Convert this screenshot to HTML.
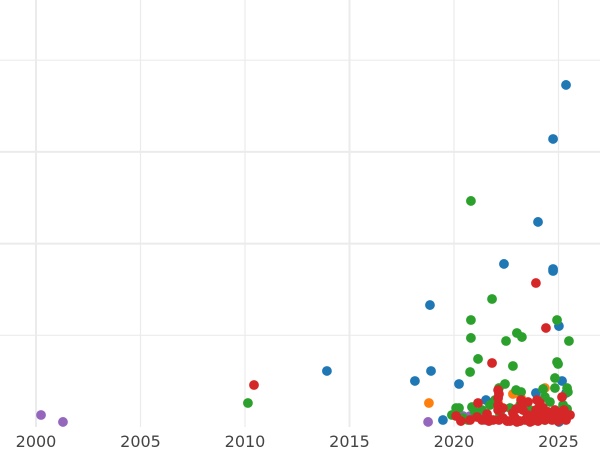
<!DOCTYPE html>
<html><head><meta charset="utf-8"><style>
html,body{margin:0;padding:0;background:#fff;}
svg{display:block;font-family:"DejaVu Sans","Liberation Sans",sans-serif;}
</style></head><body>
<svg id="chart" width="600" height="450"></svg>
<script>
const xTicks=[2000,2005,2010,2015,2020,2025];
const yGrid=[1,2,3,4];
const bluePx=[[566,85],[553,139],[538,222],[504,264],[553,269],[553,271],[430,305],[559,326],[327,371],[431,371],[415,381],[459,384],[562,381],[536,393],[566,393],[559,422],[486,400],[443,420]];
const greenPx=[[471,201],[492,299],[471,320],[557,320],[517,333],[522,337],[471,338],[506,341],[569,341],[478,359],[513,366],[470,372],[557,362],[558,364],[248,403],[555,378],[459,408],[456,408],[472,407],[505,384],[499,388],[516,390],[521,392],[543,389],[555,388],[567,388],[568,392],[545,397],[550,402],[563,405],[567,409],[452,415],[463,418],[475,412],[482,410],[490,405],[495,400],[510,408],[520,405],[530,410],[540,405],[545,420],[550,415],[556,412],[468,420],[527,413],[500,415]];
const orangePx=[[429,403],[513,394],[545,388],[498,403],[521,398]];
const redPx=[[254,385],[536,283],[546,328],[492,363],[478,403],[498,390],[499,394],[498,398],[521,400],[522,404],[498,405],[498,410],[487,414],[456,416],[461,421],[470,420],[477,417],[482,420],[493,420],[503,418],[510,421],[515,418],[520,421],[525,420],[528,415],[532,421],[534,418],[536,410],[537,400],[540,403],[541,415],[545,420],[548,412],[550,415],[552,420],[555,410],[557,418],[560,413],[563,417],[566,420],[570,415],[562,397],[523,410],[513,413],[503,408],[516,409],[528,402],[507,421],[517,422],[530,422],[538,421],[543,408],[558,421],[564,410],[499,420],[489,421]];
const purplePx=[[41,415],[63,422],[428,422],[463,416],[470,416],[485,420],[488,418],[501,410],[547,415],[482,418]];
// convert reading to data units (year, value)
const toData=a=>a.map(p=>[+(2000+(p[0]-36)/20.9).toFixed(2),+((427-p[1])/91.7).toFixed(3)]);
const blueData=toData(bluePx),greenData=toData(greenPx),orangeData=toData(orangePx),redData=toData(redPx),purpleData=toData(purplePx);

const xS=v=>36+(v-2000)*20.9;
const yS=v=>427-v*91.7;
const svg=document.getElementById('chart');
const NS='http://www.w3.org/2000/svg';
function mk(t,a){const e=document.createElementNS(NS,t);for(const k in a)e.setAttribute(k,a[k]);svg.appendChild(e);return e;}
yGrid.forEach((v,i)=>{const l=mk('line',{x1:0,x2:600,y1:yS(v),y2:yS(v),stroke:'#ebebeb','stroke-width':(v==2||v==3)?2:1.2});

});
xTicks.forEach(v=>{const l=mk('line',{x1:xS(v),x2:xS(v),y1:0,y2:427,stroke:'#ebebeb','stroke-width':(v==2000||v==2015)?2:1.2});


const t=mk('text',{x:xS(v),y:447,'text-anchor':'middle','font-size':'16',fill:'#444'});t.textContent=v;

});
const series=[['purple',purpleData,'#9467bd'],['orange',orangeData,'#ff7f0e'],['blue',blueData,'#1f77b4'],['green',greenData,'#2ca02c'],['red',redData,'#d62728']];
series.forEach(s=>s[1].forEach(d=>{const c=mk('circle',{cx:xS(d[0]),cy:yS(d[1]),r:4.9,fill:s[2]});

}));
</script>
</body></html>
